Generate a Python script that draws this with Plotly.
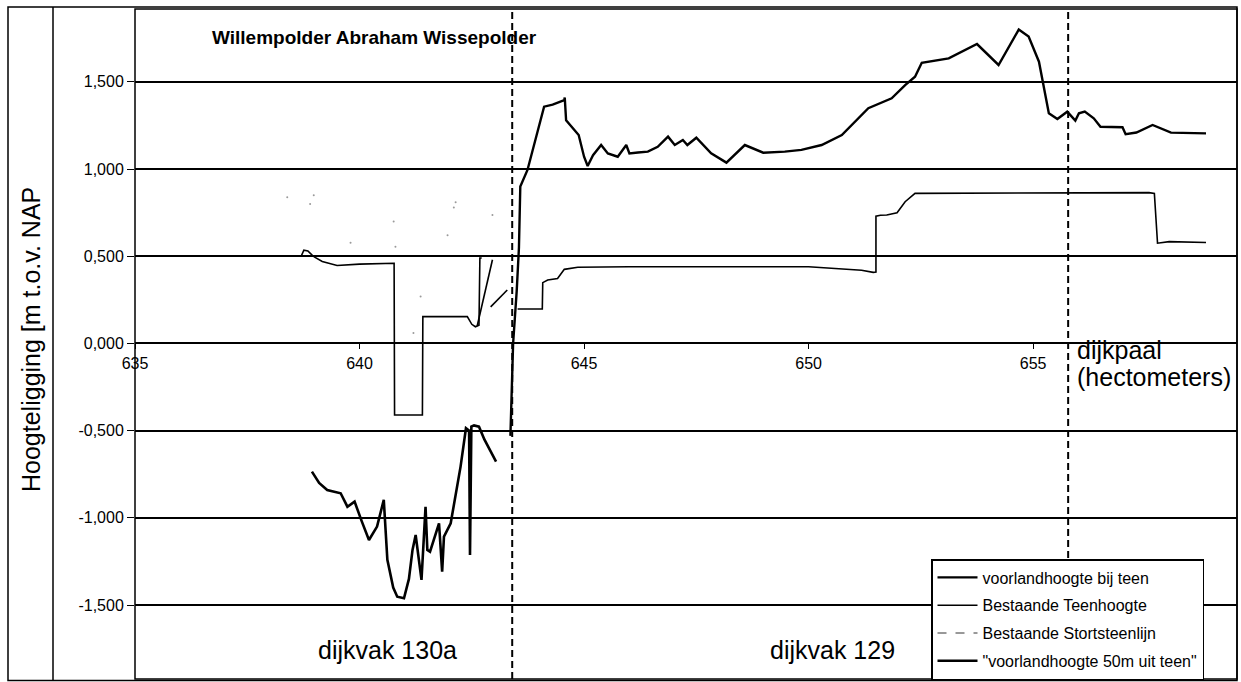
import plotly.graph_objects as go

# ---------------- data ----------------
# voorlandhoogte bij teen
vbt_x = [643.36, 643.42, 643.50, 643.55, 643.58, 643.74, 644.11, 644.30, 644.56, 644.57,
         644.60, 644.78, 644.88, 645.00, 645.08, 645.20, 645.38, 645.53, 645.75, 645.94,
         646.01, 646.20, 646.42, 646.64, 646.87, 647.02, 647.20, 647.30, 647.50, 647.83,
         648.17, 648.58, 648.99, 649.47, 649.84, 650.29, 650.74, 651.33, 651.85, 652.15,
         652.37, 652.52, 653.12, 653.75, 654.23, 654.68, 654.90, 655.13, 655.24, 655.35,
         655.54, 655.76, 655.94, 656.02, 656.15, 656.35, 656.50, 656.99, 657.06, 657.30,
         657.66, 658.07, 658.85]
vbt_y = [-0.53, 0.00, 0.30, 0.55, 0.90, 0.995, 1.358, 1.370, 1.396, 1.410,
         1.280, 1.224, 1.195, 1.071, 1.018, 1.080, 1.138, 1.090, 1.071, 1.138,
         1.090, 1.095, 1.100, 1.128, 1.186, 1.138, 1.167, 1.138, 1.180, 1.090,
         1.037, 1.138, 1.094, 1.100, 1.110, 1.138, 1.195, 1.349, 1.406, 1.482,
         1.530, 1.610, 1.635, 1.717, 1.597, 1.800, 1.760, 1.616, 1.472, 1.320,
         1.287, 1.329, 1.278, 1.320, 1.330, 1.291, 1.243, 1.240, 1.200, 1.210,
         1.253, 1.209, 1.205]

# Bestaande Teenhoogte
bth_x = [638.35, 638.70, 638.76, 638.85, 638.95, 639.00, 639.17, 639.50, 640.00, 640.77,
         640.78, 641.40, 641.41, 642.40, 642.50, 642.58, 642.66, 642.68, 642.72, None,
         642.62, 642.96, None, 642.92, 643.29, None,
         643.52, 644.07, 644.08, 644.19, 644.41, 644.56, 644.86, 646.00, 648.00, 650.00,
         651.18, 651.44, 651.50, 651.50, 651.60, 651.74, 651.97, 652.15, 652.37, 657.58,
         657.70, 657.76, 657.77, 658.03, 658.85]
bth_y = [0.500, 0.500, 0.535, 0.530, 0.505, 0.495, 0.470, 0.447, 0.455, 0.460,
         -0.410, -0.410, 0.154, 0.154, 0.110, 0.096, 0.105, 0.490, 0.490, None,
         0.100, 0.480, None, 0.210, 0.307, None,
         0.198, 0.198, 0.349, 0.364, 0.373, 0.425, 0.437, 0.440, 0.440, 0.440,
         0.420, 0.408, 0.410, 0.730, 0.735, 0.737, 0.750, 0.813, 0.861, 0.865,
         0.860, 0.650, 0.575, 0.584, 0.579]

# Bestaande Stortsteenlijn (barely visible in the scan)
bss_x = [638.39, 638.90, 638.98, 639.80, 640.76, 640.80, 641.20, 641.36, 641.96, 642.10,
         642.14, 642.96]
bss_y = [0.838, 0.800, 0.850, 0.578, 0.700, 0.555, 0.060, 0.270, 0.620, 0.780,
         0.810, 0.737]

# "voorlandhoogte 50m uit teen"
v50_x = [638.94, 639.10, 639.28, 639.58, 639.73, 639.89, 640.05, 640.21, 640.39, 640.54,
         640.62, 640.75, 640.84, 640.99, 641.10, 641.18, 641.25, 641.38, 641.47, 641.51,
         641.57, 641.77, 641.84, 641.88, 642.03, 642.25, 642.37, 642.44, 642.46, 642.49,
         642.55, 642.66, 642.78, 643.04]
v50_y = [-0.735, -0.800, -0.840, -0.859, -0.936, -0.907, -1.020, -1.127, -1.050, -0.897,
         -1.241, -1.400, -1.452, -1.461, -1.350, -1.184, -1.098, -1.356, -0.936, -1.184,
         -1.194, -1.031, -1.308, -1.108, -1.031, -0.706, -0.486, -0.500, -1.213, -0.477,
         -0.470, -0.477, -0.550, -0.678]

# section boundaries (dijkvak grenzen)
grens_x = [643.40, 655.78]

y_ticks = [1.5, 1.0, 0.5, 0.0, -0.5, -1.0, -1.5]
y_ticktext = ["1,500", "1,000", "0,500", "0,000", "-0,500", "-1,000", "-1,500"]
x_ticks = [635, 640, 645, 650, 655]
x_ticktext = ["635", "640", "645", "650", "655"]

X_RANGE = [635, 659.54]
Y_RANGE = [-1.924, 1.918]

FONT = "Liberation Sans, Arial, sans-serif"

fig = go.Figure()

fig.add_trace(go.Scatter(x=vbt_x, y=vbt_y, mode="lines", name="voorlandhoogte bij teen",
                         line=dict(color="black", width=2.4), legendgroup="a"))
fig.add_trace(go.Scatter(x=bth_x, y=bth_y, mode="lines", name="Bestaande Teenhoogte",
                         line=dict(color="black", width=1.6), connectgaps=False,
                         legendgroup="b"))
fig.add_trace(go.Scatter(x=bss_x, y=bss_y, mode="markers", showlegend=False,
                         marker=dict(color="#9a9a9a", size=2), legendgroup="c"))
fig.add_trace(go.Scatter(x=[None], y=[None], mode="lines", name="Bestaande Stortsteenlijn",
                         line=dict(color="#333333", width=1, dash="dash"), legendgroup="c"))
fig.add_trace(go.Scatter(x=v50_x, y=v50_y, mode="lines", name="\"voorlandhoogte 50m uit teen\"",
                         line=dict(color="black", width=2.6), legendgroup="d"))

shapes = []
for gx in grens_x:
    shapes.append(dict(type="line", xref="x", yref="paper", x0=gx, x1=gx, y0=0, y1=1,
                       line=dict(color="black", width=2, dash="7px,4px")))
# plot frame
shapes.append(dict(type="rect", xref="paper", yref="paper", x0=0, x1=1, y0=0, y1=1,
                   line=dict(color="black", width=1.5)))
# outer chart frame and inner divider
PW, PH = 1102, 670
shapes.append(dict(type="rect", xref="paper", yref="paper",
                   x0=(8 - 135) / PW, x1=1, y0=-1.5 / PH, y1=(679 - 7) / PH,
                   line=dict(color="black", width=1.5)))
shapes.append(dict(type="line", xref="paper", yref="paper",
                   x0=(53 - 135) / PW, x1=(53 - 135) / PW, y0=-1.5 / PH, y1=(679 - 7) / PH,
                   line=dict(color="black", width=1.5)))

annotations = [
    dict(text="<b>Willempolder Abraham Wissepolder</b>", x=636.67, y=1.757, xref="x", yref="y",
         xanchor="left", yanchor="middle", showarrow=False,
         font=dict(family=FONT, size=19, color="black")),
    dict(text="dijkvak 130a", x=640.63, y=-1.757, xref="x", yref="y", showarrow=False,
         xanchor="center", yanchor="middle", font=dict(family=FONT, size=25, color="black")),
    dict(text="dijkvak 129", x=650.54, y=-1.757, xref="x", yref="y", showarrow=False,
         xanchor="center", yanchor="middle", font=dict(family=FONT, size=25, color="black")),
    dict(text="dijkpaal", x=655.94, y=-0.037, xref="x", yref="y", showarrow=False,
         xanchor="left", yanchor="middle", font=dict(family=FONT, size=25, color="black")),
    dict(text="(hectometers)", x=655.94, y=-0.192, xref="x", yref="y", showarrow=False,
         xanchor="left", yanchor="middle", font=dict(family=FONT, size=25, color="black")),
    dict(text="Hoogteligging [m t.o.v. NAP", x=(31 - 135) / PW, y=(679 - 339) / PH,
         xref="paper", yref="paper", textangle=-90, showarrow=False,
         xanchor="center", yanchor="middle", font=dict(family=FONT, size=25, color="black")),
]

fig.update_layout(
    width=1241, height=682,
    margin=dict(l=135, r=4, t=9, b=3, autoexpand=False),
    paper_bgcolor="white", plot_bgcolor="white",
    font=dict(family=FONT, size=15, color="black"),
    shapes=shapes, annotations=annotations,
    showlegend=True,
    legend=dict(x=(931 - 135) / PW, y=(679 - 559) / PH, xanchor="left", yanchor="top",
                bgcolor="white", bordercolor="black", borderwidth=1.5,
                font=dict(family=FONT, size=16, color="black"),
                traceorder="grouped", tracegroupgap=4, itemwidth=40),
    xaxis=dict(range=X_RANGE, tickvals=x_ticks, ticktext=x_ticktext, automargin=False,
               anchor="free", position=(0 - Y_RANGE[0]) / (Y_RANGE[1] - Y_RANGE[0]),
               showgrid=False, zeroline=False, showline=False,
               ticks="outside", ticklen=5, tickcolor="black", tickwidth=1,
               tickfont=dict(family=FONT, size=16, color="black")),
    yaxis=dict(range=Y_RANGE, tickvals=y_ticks, ticktext=y_ticktext, automargin=False,
               showgrid=True, gridcolor="black", gridwidth=1.6, zeroline=False,
               showline=False, ticks="outside", ticklen=7, tickcolor="black",
               tickfont=dict(family=FONT, size=16, color="black")),
)

fig.write_html("out.html", config={"displayModeBar": False},
               post_script="document.body.style.margin='0';document.body.style.overflow='hidden';")
